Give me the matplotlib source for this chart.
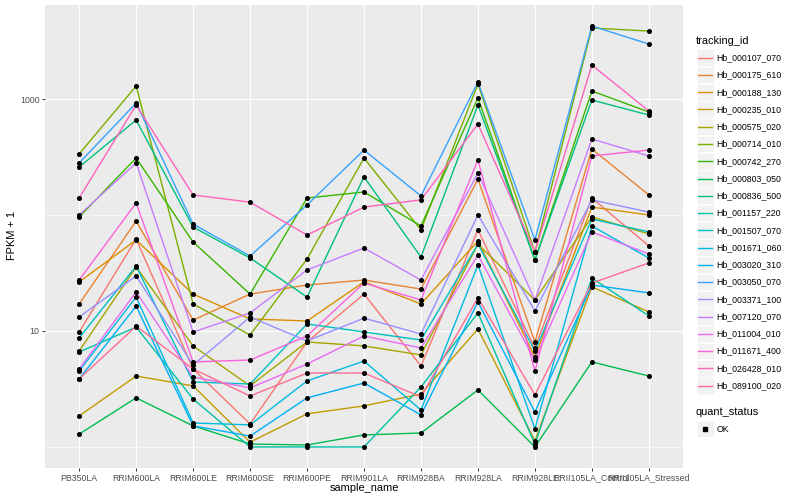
import matplotlib
matplotlib.use("Agg")
import matplotlib.pyplot as plt
from matplotlib.ticker import FixedLocator, NullFormatter
from matplotlib.patches import Rectangle
from matplotlib.lines import Line2D
import numpy as np

plt.rcParams['font.family'] = ['Liberation Sans', 'DejaVu Sans']

samples = ["PB350LA", "RRIM600LA", "RRIM600LE", "RRIM600SE", "RRIM600PE",
           "RRIM901LA", "RRIM928BA", "RRIM928LA", "RRIM928LE",
           "RRII105LA_Control", "RRII105LA_Stressed"]

tracking_ids = ["Hb_000107_070", "Hb_000175_610", "Hb_000188_130", "Hb_000235_010",
                "Hb_000575_020", "Hb_000714_010", "Hb_000742_270", "Hb_000803_050",
                "Hb_000836_500", "Hb_001157_220", "Hb_001507_070", "Hb_001671_060",
                "Hb_003020_310", "Hb_003050_070", "Hb_003371_100", "Hb_007120_070",
                "Hb_011004_010", "Hb_011671_400", "Hb_026428_010", "Hb_089100_020"]

# FPKM + 1 values per gene, in sample order
Hb_000107_070 = [9.80, 62.1, 4.70, 1.58, 8.04, 20.8, 4.99, 74.3, 7.14, 140, 54.1]
Hb_000175_610 = [17.1, 88.8, 12.4, 20.8, 24.9, 27.5, 23.0, 204, 8.04, 371, 149]
Hb_000188_130 = [26.5, 60.9, 20.8, 12.7, 12.2, 26.5, 17.1, 59.7, 5.97, 117, 100]
Hb_000235_010 = [1.85, 4.09, 3.36, 1.10, 1.93, 2.26, 2.86, 10.4, 1.13, 24.0, 14.6]
Hb_000575_020 = [6.72, 35.6, 7.43, 3.36, 8.04, 7.43, 6.21, 56.2, 18.5, 96.1, 68.6]
Hb_000714_010 = [336, 1295, 17.1, 9.24, 41.8, 310, 74.3, 1347, 48.0, 4093, 3856]
Hb_000742_270 = [96.1, 310, 58.5, 20.8, 140, 158, 80.4, 1020, 40.9, 1172, 773]
Hb_000803_050 = [1.29, 2.65, 1.52, 1.06, 1.04, 1.27, 1.32, 3.10, 1.00, 5.41, 4.09]
Hb_000836_500 = [259, 659, 78.8, 42.6, 19.6, 213, 43.4, 888, 40.9, 980, 728]
Hb_001157_220 = [6.59, 10.8, 2.59, 1.00, 1.00, 1.00, 3.29, 14.3, 1.06, 28.6, 13.5]
Hb_001507_070 = [8.70, 36.3, 3.63, 3.49, 11.5, 9.80, 8.36, 56.2, 6.72, 92.4, 71.4]
Hb_001671_060 = [4.52, 19.6, 1.61, 1.55, 3.71, 5.51, 2.08, 37.1, 1.43, 80.4, 42.6]
Hb_003020_310 = [3.86, 16.4, 1.52, 1.24, 2.65, 3.56, 1.89, 17.8, 2.00, 24.9, 21.3]
Hb_003050_070 = [281, 924, 83.6, 44.3, 122, 363, 146, 1401, 60.9, 4259, 2979]
Hb_003371_100 = [13.2, 29.8, 5.09, 13.2, 8.20, 12.9, 9.42, 100, 14.9, 135, 106]
Hb_007120_070 = [100, 281, 9.80, 14.3, 33.6, 51.9, 27.5, 230, 18.5, 452, 323]
Hb_011004_010 = [4.70, 21.7, 4.01, 3.23, 5.19, 9.06, 7.14, 45.2, 5.62, 71.4, 46.1]
Hb_011671_400 = [27.5, 127, 5.41, 5.62, 9.06, 25.9, 18.5, 298, 4.52, 323, 363]
Hb_026428_010 = [140, 888, 149, 129, 67.2, 117, 135, 609, 48.0, 1964, 788]
Hb_089100_020 = [3.86, 11.0, 4.70, 2.75, 4.34, 4.34, 2.70, 19.3, 2.81, 25.9, 38.6]

series = [Hb_000107_070, Hb_000175_610, Hb_000188_130, Hb_000235_010, Hb_000575_020,
          Hb_000714_010, Hb_000742_270, Hb_000803_050, Hb_000836_500, Hb_001157_220,
          Hb_001507_070, Hb_001671_060, Hb_003020_310, Hb_003050_070, Hb_003371_100,
          Hb_007120_070, Hb_011004_010, Hb_011671_400, Hb_026428_010, Hb_089100_020]

colors = ["#F8766D", "#EA8331", "#D89000", "#C09B00", "#A3A500", "#7CAE00", "#39B600",
          "#00BB4E", "#00BF7D", "#00C1A3", "#00BFC4", "#00BAE0", "#00B0F6", "#35A2FF",
          "#9590FF", "#C77CFF", "#E76BF3", "#FA62DB", "#FF62BC", "#FF6C91"]

fig = plt.figure(figsize=(8, 5), dpi=100)
ax = fig.add_axes([45/800, 1 - 468/500, 638/800, 463/500])
ax.set_facecolor("#EBEBEB")
for s in ax.spines.values():
    s.set_visible(False)

x = np.arange(len(samples))
for vals, c in zip(series, colors):
    ax.plot(x, vals, color=c, lw=1.0, zorder=3, solid_capstyle='butt')
for vals in series:
    ax.plot(x, vals, ls='none', marker='o', ms=2.6, color='black', zorder=4)

ax.set_yscale('log')
allv = np.concatenate([np.log10(v) for v in series])
lo, hi = allv.min(), allv.max()
pad = 0.05 * (hi - lo)
ax.set_ylim(10 ** (lo - pad), 10 ** (hi + pad))
ax.set_xlim(-0.6, len(samples) - 0.4)

ax.yaxis.set_major_locator(FixedLocator([10, 1000]))
ax.yaxis.set_minor_locator(FixedLocator([1, 100]))
ax.yaxis.set_minor_formatter(NullFormatter())
ax.set_yticklabels(["10", "1000"])
ax.set_xticks(x)
ax.set_xticklabels(samples)

ax.grid(True, which='major', color='white', lw=0.8, zorder=1)
ax.grid(True, which='minor', axis='y', color='white', lw=0.4, zorder=1)
ax.set_axisbelow(True)
ax.tick_params(axis='both', which='major', length=2.5, width=0.7, color='#333333',
               labelsize=6.3, labelcolor='#4D4D4D', pad=1.5)
ax.tick_params(axis='both', which='minor', length=0)

fig.text(364/800, 1 - 488/500, "sample_name", ha='center', va='center', fontsize=7.9, color='black')
fig.text(12/800, 1 - 236/500, "FPKM + 1", ha='center', va='center', rotation=90, fontsize=7.9, color='black')

# legend drawn in pixel coordinates
lax = fig.add_axes([0, 0, 1, 1])
lax.set_xlim(0, 800)
lax.set_ylim(500, 0)
lax.axis('off')
lax.patch.set_alpha(0)

lax.text(696, 40.5, "tracking_id", ha='left', va='center', fontsize=7.9, color='black')
y0 = 57.7
dy = 17.26
for i, (tid, c) in enumerate(zip(tracking_ids, colors)):
    yy = y0 + i * dy
    lax.add_patch(Rectangle((696.5, yy - dy / 2 + 0.3), 17, dy - 0.6, facecolor='#F2F2F2',
                            edgecolor='white', lw=0.5))
    lax.add_line(Line2D([698, 712], [yy, yy], color=c, lw=1.0))
    lax.text(716.5, yy, tid, ha='left', va='center', fontsize=6.3, color='black')

lax.text(696, 412, "quant_status", ha='left', va='center', fontsize=7.9, color='black')
lax.add_patch(Rectangle((696.5, 429 - 8.3), 17, 16.6, facecolor='#F2F2F2', edgecolor='white', lw=0.5))
lax.plot([705], [429], ls='none', marker='s', ms=2.3, color='black')
lax.text(716.5, 429, "OK", ha='left', va='center', fontsize=6.3, color='black')

fig.savefig("out.png", dpi=100)
